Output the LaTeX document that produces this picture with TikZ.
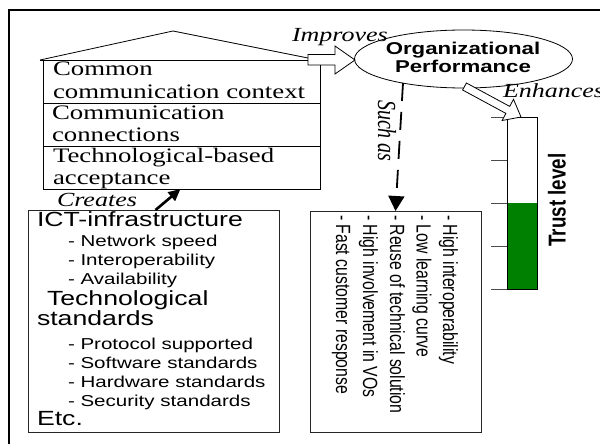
\documentclass[tikz,border=0pt]{standalone}
\usepackage{fontspec}
\setmainfont{Liberation Serif}
\newfontfamily\arialf{Liberation Sans}
\usetikzlibrary{arrows.meta,shapes.geometric}
\definecolor{bargreen}{RGB}{0,128,0}
\begin{document}
\begin{tikzpicture}[x=1pt,y=-1pt,line join=miter,
  every node/.style={inner sep=0pt,outer sep=0pt},
  ser/.style={anchor=base west,xscale=1.3,font=\fontsize{20.6}{22}\selectfont},
  ita/.style={anchor=base west,xscale=1.3,font=\fontsize{20}{22}\selectfont\itshape},
  hd/.style={anchor=base west,xscale=1.3,font=\arialf\fontsize{20.5}{22}\selectfont},
  sb/.style={anchor=base west,xscale=1.3,font=\arialf\fontsize{15.8}{18}\selectfont},
  rsb/.style={anchor=base west,xscale=1.3,rotate=-90,font=\arialf\fontsize{15.8}{18}\selectfont},
  ttl/.style={anchor=base,xscale=1.3,font=\arialf\bfseries\fontsize{17.1}{18}\selectfont},
  thin/.style={line width=0.8pt},
  box/.style={draw=black!85,line width=0.8pt}
]
\useasboundingbox (0,0) rectangle (600,444);
\clip (0,0) rectangle (600,444);
% outer frame
\draw[line width=2pt] (9,460) -- (9,10) -- (620,10);

% house
\node[draw,thin,minimum width=277pt,minimum height=129pt] (hb) at (181.5,124.5) {};
\draw[thin] (43,103) -- (320,103) (43,146) -- (320,146);
\draw[thin] (40,60) -- (173,31) -- (308,58);
\draw[thin] (40,60) -- (43,60);
\node[ser] (h1) at (53,76) {Common};
\node[ser] (h2) at (53,99) {communication context};
\node[ser] (h3) at (52,120) {Communication};
\node[ser] (h4) at (52,141) {connections};
\node[ser] (h5) at (53,162) {Technological-based};
\node[ser] (h6) at (53,184) {acceptance};

% improves arrow
\draw[thin,fill=white] (308,54.5) -- (335,54.5) -- (335,46) -- (355,60) -- (335,74) -- (335,65) -- (308,65) -- cycle;
\node[ita] (imp) at (292,42) {Improves};

% ellipse
\node[draw,ellipse,thin,minimum width=218pt,minimum height=58pt] (op) at (463.5,59) {};
\node[ttl] (op1) at (463,55) {Organizational};
\node[ttl] (op2) at (463,73) {Performance};

% trust bar
\fill[bargreen] (507,203) rectangle (537,289);
\draw[thin] (507,117) rectangle (537,289);
\foreach \yy in {117,160,203,246,289} \draw[black!70,thin] (491,\yy) -- (507,\yy);
\node[anchor=center,xscale=1.3,rotate=90,font=\arialf\bfseries\fontsize{18.8}{20}\selectfont] (tl) at (557,200) {Trust level};

% enhances arrow
\draw[thin,fill=white] (466.4,83.0) -- (509.7,106.4) -- (513.5,99.3) -- (521,117) -- (502.1,120.5) -- (505.9,113.4) -- (462.6,90.0) -- cycle;
\node[ita] (enh) at (503,98) {Enhances};

% ICT box
\node[box,minimum width=251pt,minimum height=222pt] (ict) at (153.5,321) {};
\node[hd] (i1) at (37,226) {ICT-infrastructure};
\node[sb] (i2) at (68,246) {- Network speed};
\node[sb] (i3) at (68,265) {- Interoperability};
\node[sb] (i4) at (68,284) {- Availability};
\node[hd] (i5) at (47,305) {Technological};
\node[hd] (i6) at (37,325) {standards};
\node[sb] (i7) at (68,349) {- Protocol supported};
\node[sb] (i8) at (68,368) {- Software standards};
\node[sb] (i9) at (68,387) {- Hardware standards};
\node[sb] (i10) at (68,406) {- Security standards};
\node[hd] (i11) at (37,425) {Etc.};

% creates arrow
\draw[line width=2.6pt,-{Triangle[length=12pt,width=11pt]}] ([xshift=2pt]ict.north) -- ([xshift=-1pt]hb.south);
\node[ita] (cr) at (57,206) {Creates};

% right box
\node[box,minimum width=171pt,minimum height=221pt] (rb) at (395.5,321.5) {};
\node[rsb] (r1) at (443,215) {- High interoperability};
\node[rsb] (r2) at (416.5,215) {- Low learning curve};
\node[rsb] (r3) at (390,215) {- Reuse of technical solution};
\node[rsb] (r4) at (363,215) {- High involvement in VOs};
\node[rsb] (r5) at (336,215) {- Fast customer response};

% such as arrow
\coordinate (sa) at (403,83);
\draw[line width=1.8pt,dash pattern=on 18pt off 11pt,-{Triangle[length=15pt,width=16pt]}] (sa) -- (rb.north);
\node[ita,rotate=-90] (such) at (378,100) {Such as};
\end{tikzpicture}
\end{document}
